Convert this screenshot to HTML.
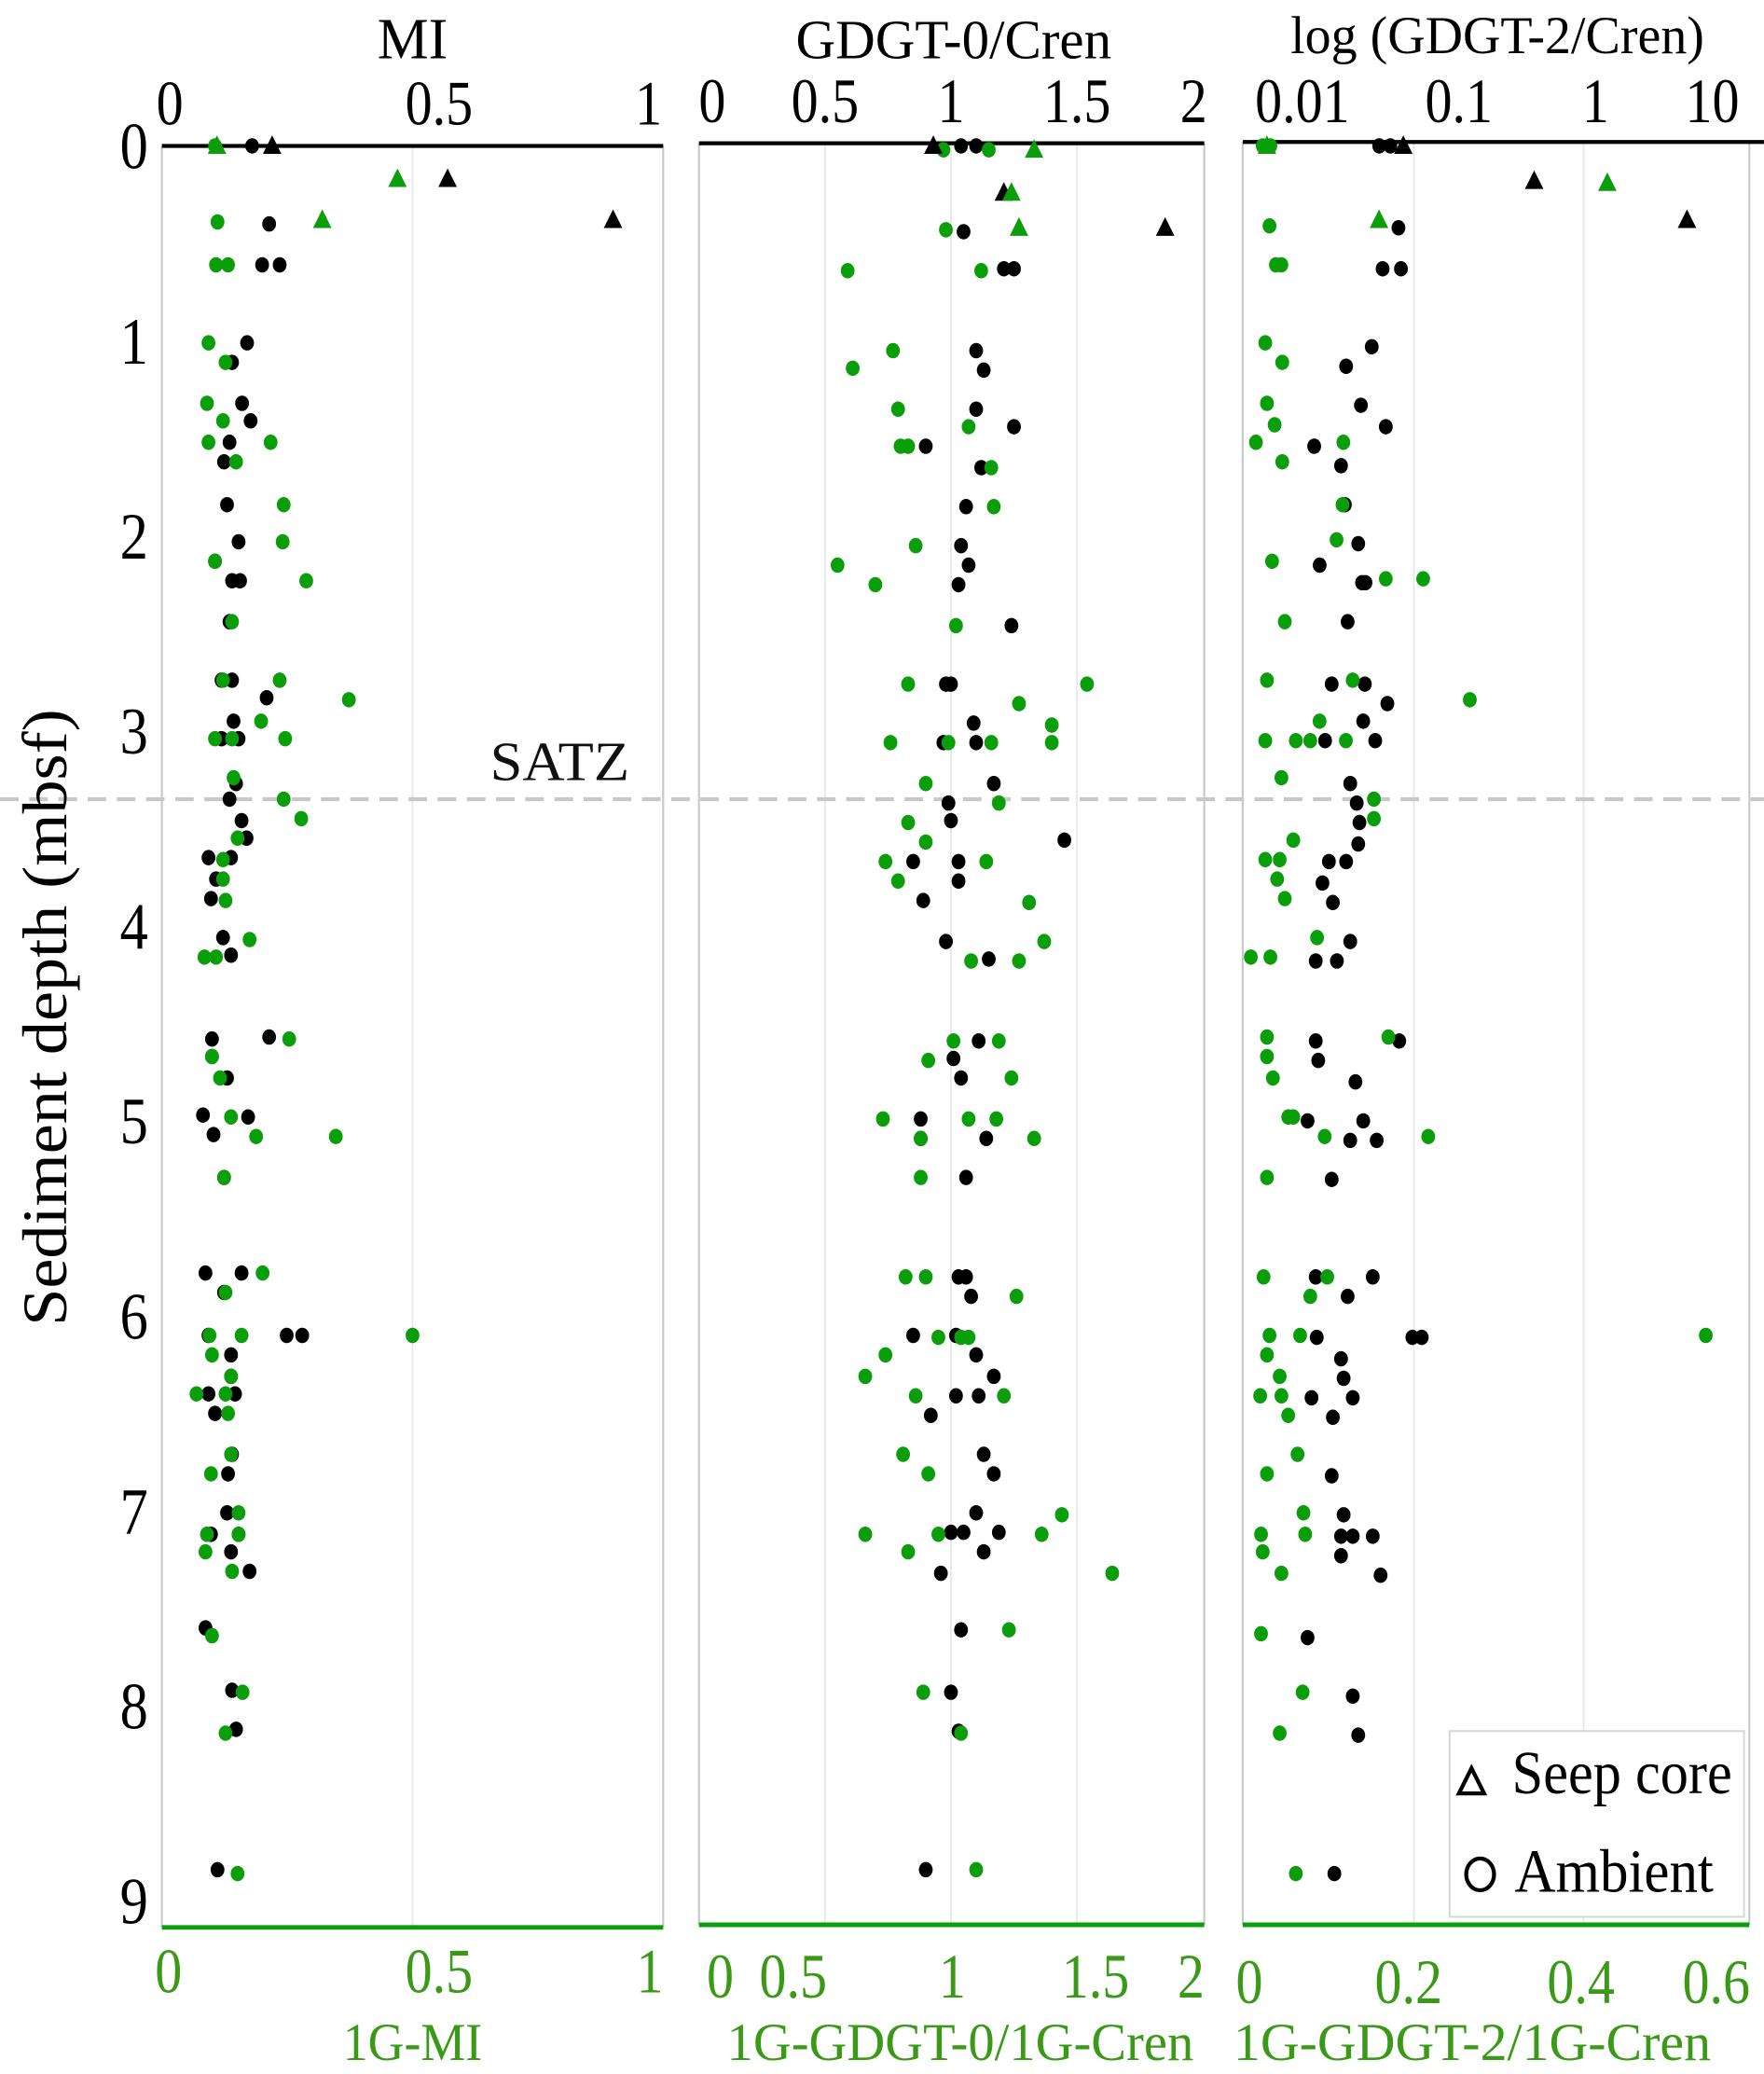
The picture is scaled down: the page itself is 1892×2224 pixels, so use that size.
<!DOCTYPE html>
<html><head><meta charset="utf-8">
<style>
html,body{margin:0;padding:0;background:#fff;}
svg{display:block;font-family:"Liberation Serif",serif;}
</style></head>
<body>
<svg id="chart" width="1892" height="2224" viewBox="0 0 1330 1563.5" xmlns="http://www.w3.org/2000/svg"></svg>
<script>
// ---- data ----
const depthTicks = [0,1,2,3,4,5,6,7,8,9];
const p1Ticks = [0,0.5,1];
const p2Ticks = [0,0.5,1,1.5,2];
const p3TopTicks = [0.01,0.1,1,10];
const p3TopLabels = ["0.01","0.1","1","10"];
const p3BotTicks = [0,0.2,0.4,0.6];
const panelTitles = ["MI","GDGT-0/Cren","log (GDGT-2/Cren)"];
const panelBottomTitles = ["1G-MI","1G-GDGT-0/1G-Cren","1G-GDGT-2/1G-Cren"];
const satzDepth = 3.35;

const p1SeepBlackD = [0,0.17,0.38];
const p1SeepBlackV = [0.22,0.57,0.90];
const p1SeepGreenD = [0,0.17,0.38];
const p1SeepGreenV = [0.11,0.47,0.32];
const p1BlackD = [0,0.40,0.61,0.61,1.01,1.11,1.32,1.41,1.52,1.62,1.84,2.03,2.13,2.23,2.23,2.44,2.74,2.74,2.83,2.95,3.04,3.04,3.27,3.35,3.46,3.55,3.65,3.65,3.76,3.86,4.06,4.15,4.58,4.57,4.67,4.78,4.97,4.98,5.07,5.29,5.78,5.78,5.88,6.10,6.10,6.10,6.20,6.31,6.40,6.40,6.50,6.71,6.81,7.01,7.12,7.12,7.21,7.31,7.60,7.92,8.12,8.84];
const p1BlackV = [0.18,0.214,0.20,0.235,0.17,0.14,0.16,0.177,0.135,0.124,0.13,0.153,0.106,0.14,0.156,0.135,0.119,0.14,0.209,0.143,0.119,0.153,0.148,0.135,0.159,0.169,0.138,0.093,0.108,0.098,0.122,0.138,0.1,0.214,0.1,0.13,0.082,0.172,0.103,0.124,0.087,0.159,0.124,0.249,0.28,0.093,0.138,0.138,0.093,0.146,0.106,0.14,0.132,0.13,0.098,0.153,0.138,0.175,0.087,0.14,0.148,0.111];
const p1GreenD = [0,0.39,0.61,0.61,1.01,1.11,1.32,1.41,1.52,1.52,1.62,1.84,2.03,2.13,2.23,2.44,2.74,2.74,2.84,2.95,3.04,3.04,3.04,3.24,3.35,3.45,3.55,3.66,3.76,3.87,4.07,4.16,4.16,4.58,4.67,4.78,4.98,5.08,5.08,5.29,5.78,5.88,6.10,6.10,6.10,6.20,6.31,6.40,6.40,6.50,6.71,6.81,7.01,7.12,7.12,7.21,7.31,7.64,7.93,8.14,8.86];
const p1GreenV = [0.106,0.111,0.108,0.132,0.093,0.127,0.09,0.122,0.093,0.217,0.148,0.243,0.241,0.106,0.288,0.14,0.122,0.235,0.373,0.198,0.106,0.14,0.246,0.143,0.243,0.278,0.151,0.122,0.122,0.127,0.175,0.085,0.108,0.254,0.1,0.116,0.138,0.188,0.347,0.124,0.201,0.127,0.5,0.095,0.159,0.1,0.138,0.069,0.127,0.132,0.138,0.098,0.153,0.09,0.153,0.087,0.14,0.1,0.161,0.127,0.151];

const p2SeepBlackD = [0,0.24,0.42];
const p2SeepBlackV = [0.93,1.21,1.85];
const p2SeepGreenD = [0.02,0.24,0.42];
const p2SeepGreenV = [1.33,1.24,1.27];
const p2BlackD = [0,0,0.44,0.63,0.63,1.05,1.15,1.35,1.44,1.54,1.65,1.85,2.05,2.15,2.25,2.46,2.76,2.76,2.96,3.06,3.06,3.27,3.37,3.46,3.56,3.67,3.67,3.77,3.87,4.08,4.17,4.59,4.68,4.78,4.99,5.09,5.09,5.29,5.80,5.80,5.90,6.10,6.10,6.20,6.31,6.41,6.41,6.51,6.71,6.81,7.01,7.11,7.11,7.11,7.21,7.32,7.61,7.93,8.13,8.84];
const p2BlackV = [1.1,1.04,1.05,1.21,1.25,1.1,1.13,1.1,1.25,0.9,1.12,1.06,1.04,1.07,1.03,1.24,0.98,1.0,1.09,0.97,1.1,1.17,0.99,1.0,1.45,0.85,1.03,1.03,0.89,0.98,1.15,1.11,1.01,1.04,0.88,0.88,1.14,1.06,1.03,1.06,1.08,0.85,1.02,1.1,1.17,1.02,1.11,0.92,1.13,1.17,1.1,1.0,1.05,1.19,1.13,0.96,1.04,1.0,1.03,0.9];
const p2GreenD = [0.02,0.02,0.43,0.64,0.64,1.05,1.14,1.35,1.44,1.54,1.54,1.65,1.85,2.05,2.15,2.25,2.46,2.76,2.76,2.86,2.97,3.06,3.06,3.06,3.06,3.27,3.37,3.47,3.57,3.67,3.67,3.77,3.88,4.08,4.18,4.18,4.59,4.59,4.69,4.78,4.99,4.99,4.99,5.09,5.09,5.29,5.80,5.80,5.90,6.11,6.11,6.11,6.20,6.31,6.41,6.41,6.71,6.81,7.02,7.12,7.12,7.12,7.21,7.32,7.61,7.93,8.14,8.84];
const p2GreenV = [0.97,1.15,0.98,0.59,1.12,0.77,0.61,0.79,1.07,0.8,0.83,1.16,1.17,0.86,0.55,0.7,1.02,0.83,1.54,1.27,1.4,0.76,0.99,1.16,1.4,0.9,1.19,0.83,0.9,0.74,1.14,0.79,1.31,1.37,1.08,1.27,1.01,1.19,0.91,1.24,0.73,1.07,1.18,0.88,1.33,0.88,0.82,0.9,1.26,0.95,1.04,1.07,0.74,0.66,0.86,1.21,0.81,0.91,1.44,0.66,0.95,1.36,0.83,1.64,1.23,0.89,1.04,1.1];

const p3SeepBlackD = [0,0.18,0.38];
const p3SeepBlackV = [0.051,0.46,6.0];
const p3SeepGreenD = [0,0.19,0.38];
const p3SeepGreenV = [0.027,0.428,0.159];
const p3BlackD = [0,0,0.42,0.63,0.63,1.03,1.13,1.33,1.44,1.54,1.64,1.84,2.04,2.15,2.24,2.24,2.44,2.76,2.76,2.86,2.95,3.05,3.05,3.27,3.37,3.47,3.58,3.67,3.67,3.78,3.88,4.08,4.18,4.18,4.59,4.59,4.69,4.80,5.0,5.0,5.10,5.10,5.30,5.80,5.80,5.90,6.11,6.11,6.11,6.22,6.32,6.42,6.42,6.52,6.82,7.02,7.13,7.13,7.13,7.23,7.33,7.65,7.95,8.15,8.86];
const p3BlackV = [0.034,0.041,0.047,0.036,0.049,0.030,0.0195,0.025,0.038,0.0114,0.0179,0.0191,0.0239,0.0125,0.0255,0.027,0.02,0.0153,0.0267,0.039,0.026,0.0137,0.0318,0.0209,0.0233,0.0244,0.0239,0.0146,0.0195,0.0131,0.0156,0.0209,0.0117,0.0167,0.0117,0.0476,0.0122,0.0228,0.0102,0.026,0.0209,0.0326,0.0153,0.0117,0.0305,0.02,0.0594,0.0695,0.0119,0.0179,0.0187,0.0218,0.0109,0.0156,0.0153,0.0187,0.0179,0.0218,0.0305,0.0179,0.0348,0.0102,0.0218,0.0239,0.016];
const p3GreenD = [0,0,0.41,0.61,0.61,1.01,1.11,1.32,1.43,1.52,1.52,1.62,1.84,2.02,2.13,2.22,2.22,2.44,2.74,2.74,2.84,2.95,3.05,3.05,3.05,3.05,3.24,3.35,3.45,3.56,3.66,3.66,3.76,3.86,4.06,4.16,4.16,4.57,4.57,4.67,4.78,4.98,4.98,5.08,5.08,5.29,5.80,5.80,5.90,6.10,6.10,6.10,6.20,6.31,6.41,6.41,6.51,6.71,6.81,7.01,7.12,7.12,7.21,7.32,7.63,7.93,8.14,8.86];
const p3GreenV = [0.022,0.031,0.03,0.0375,0.044,0.025,0.045,0.027,0.036,0.014,0.117,0.045,0.116,0.109,0.033,0.167,0.211,0.048,0.027,0.128,0.266,0.089,0.025,0.061,0.078,0.12,0.044,0.153,0.153,0.058,0.025,0.042,0.039,0.048,0.086,0.008,0.031,0.027,0.17,0.027,0.034,0.052,0.058,0.095,0.217,0.027,0.023,0.098,0.078,0.03,0.066,0.544,0.027,0.042,0.019,0.044,0.052,0.063,0.027,0.07,0.02,0.072,0.022,0.044,0.02,0.069,0.042,0.061];

// ---- scales ----
const NS = "http://www.w3.org/2000/svg";
const svg = document.getElementById('chart');
const GREEN = "#0a9e0a", TICKGREEN = "#3a9a18";
const yS = d => 110 + d*147;
const x1 = v => 122 + v*378;
const x2 = v => 527 + v*190;
const x3top = v => 985 + 103.3*(Math.log10(v)+2);
const x3bot = v => 938 + v*640;

function mk(tag, attrs, parent){
  const e = document.createElementNS(NS, tag);
  for (const k in attrs) e.setAttribute(k, attrs[k]);
  (parent||svg).appendChild(e);
  return e;
}
// text drawn narrow & tall like the reference (condensed serif)
function txt(s, x, y, size, color, anchor, name, len){
  const t = mk('text', {x:0, y:0, 'font-size':size, fill:color, 'text-anchor':anchor||'middle',
    transform:`translate(${x},${y}) scale(0.85,1)`});
  if (len) { t.setAttribute('textLength', len/0.85); t.setAttribute('lengthAdjust','spacingAndGlyphs'); }
  t.textContent = s;
  
  
  return t;
}

const panels = [
  {l:122, r:500, top:110, bot:1453, grid:[0.5].map(x1)},
  {l:527, r:908, top:108, bot:1451, grid:[0.5,1,1.5].map(x2)},
  {l:937, r:1319, top:107, bot:1451, grid:[0.2,0.4].map(x3bot)}
];
panels.forEach((p,i)=>{
  const g = mk('g', {});
  
  
  p.grid.forEach(gx=>{
    const ln = mk('line', {x1:gx, x2:gx, y1:p.top, y2:p.bot, stroke:'#e6e6e6', 'stroke-width':1.2}, g);
    
    
  });
  [p.l,p.r].forEach(bx=>{
    const ln = mk('line', {x1:bx, x2:bx, y1:p.top, y2:p.bot, stroke:'#c8c8c8', 'stroke-width':1.5}, g);
    
    
  });
  const tl = mk('line', {x1:p.l, x2:(i==2?1330:p.r), y1:p.top, y2:p.top, stroke:'#000', 'stroke-width':3}, g);
  
  
  const bl = mk('line', {x1:p.l, x2:p.r, y1:p.bot, y2:p.bot, stroke:GREEN, 'stroke-width':3.5}, g);
  
  
});

// SATZ line
const satz = mk('line', {x1:0, x2:1330, y1:yS(satzDepth), y2:yS(satzDepth), stroke:'#c8c8c8', 'stroke-width':3, 'stroke-dasharray':'14,8'});


txt('SATZ', 422, 588, 42, '#111', 'middle', 'satz-label', 105);

// titles & ticks
txt(panelTitles[0], 311, 44, 44, '#000', 'middle', 'mi-title', 53);
txt(panelTitles[1], 719, 44, 42, '#000', 'middle', 'gdgt0-title', 238);
txt(panelTitles[2], 1129, 40, 40, '#000', 'middle', 'gdgt2-title', 312);
p1Ticks.forEach((v,i)=> txt(String(v), i==0?128:(i==2?489:x1(v)+20), 94, 48, '#000', 'middle', 'mi-top-tick'));
p2Ticks.forEach((v,i)=> txt(String(v), i==0?537:(i==4?900:x2(v)), 92, 48, '#000', 'middle', 'gdgt0-top-tick'));
p3TopTicks.forEach((v,i)=> txt(p3TopLabels[i], [982,1100,1203,1291][i], 92, 48, '#000', 'middle', 'gdgt2-top-tick'));
p1Ticks.forEach((v,i)=> txt(String(v), i==0?127:(i==2?490:x1(v)+20), 1502, 48, TICKGREEN, 'middle', 'mi-bottom-tick'));
p2Ticks.forEach((v,i)=> txt(String(v), i==0?543:(i==4?898:[0,598,718,826][i]), 1506, 48, TICKGREEN, 'middle', 'gdgt0-bottom-tick'));
p3BotTicks.forEach((v,i)=> txt(String(v), [942,1062,1192,1294][i], 1510, 48, TICKGREEN, 'middle', 'gdgt2-bottom-tick'));
txt(panelBottomTitles[0], 311, 1553, 40, TICKGREEN, 'middle', 'mi-bottom-title', 105);
txt(panelBottomTitles[1], 724, 1553, 40, TICKGREEN, 'middle', 'gdgt0-bottom-title', 352);
txt(panelBottomTitles[2], 1110, 1553, 40, TICKGREEN, 'middle', 'gdgt2-bottom-title', 360);
depthTicks.forEach(d=> txt(String(d), 101, yS(d)+17, 50, '#000', 'middle', 'depth-tick'));
const yt = mk('text', {x:0, y:0, 'font-size':48, fill:'#000', 'text-anchor':'middle',
  transform:'translate(50,767) rotate(-90)', textLength:465, lengthAdjust:'spacingAndGlyphs'});
yt.textContent = 'Sediment depth (mbsf)';



// marks
function circles(D, V, xs, color, name){
  D.forEach((d,i)=>{
    const c = mk('ellipse', {cx:xs(V[i]), cy:yS(d), rx:5.2, ry:5.8, fill:color});
    
    
  });
}
function tris(D, V, xs, color, name){
  D.forEach((d,i)=>{
    const x = xs(V[i]), y = yS(d);
    const t = mk('polygon', {points:`${x-7},${y+6} ${x+7},${y+6} ${x},${y-8}`, fill:color});
    
    
  });
}
circles(p1BlackD, p1BlackV, x1, '#000', 'mi-ambient-point');
circles(p1GreenD, p1GreenV, x1, GREEN, 'mi-1g-ambient-point');
tris(p1SeepBlackD, p1SeepBlackV, x1, '#000', 'mi-seep-point');
tris(p1SeepGreenD, p1SeepGreenV, x1, GREEN, 'mi-1g-seep-point');
circles(p2BlackD, p2BlackV, x2, '#000', 'gdgt0-ambient-point');
circles(p2GreenD, p2GreenV, x2, GREEN, 'gdgt0-1g-ambient-point');
tris(p2SeepBlackD, p2SeepBlackV, x2, '#000', 'gdgt0-seep-point');
tris(p2SeepGreenD, p2SeepGreenV, x2, GREEN, 'gdgt0-1g-seep-point');
circles(p3BlackD, p3BlackV, x3top, '#000', 'gdgt2-ambient-point');
circles(p3GreenD, p3GreenV, x3bot, GREEN, 'gdgt2-1g-ambient-point');
tris(p3SeepBlackD, p3SeepBlackV, x3top, '#000', 'gdgt2-seep-point');
tris(p3SeepGreenD, p3SeepGreenV, x3bot, GREEN, 'gdgt2-1g-seep-point');

// legend
const lg = mk('g', {});


const lb = mk('rect', {x:1093, y:1305, width:222, height:140, fill:'#fff', stroke:'#d8d8d8', 'stroke-width':1.5}, lg);


const lt = mk('polygon', {points:'1100,1352 1119,1352 1109.5,1333', fill:'none', stroke:'#000', 'stroke-width':3}, lg);


const lc = mk('ellipse', {cx:1116, cy:1413, rx:10.5, ry:12, fill:'none', stroke:'#000', 'stroke-width':3}, lg);


txt('Seep core', 1140, 1352, 46, '#000', 'start', 'legend-seep-label', 166);
txt('Ambient', 1142, 1426, 46, '#000', 'start', 'legend-ambient-label', 150);
</script>
</body></html>
